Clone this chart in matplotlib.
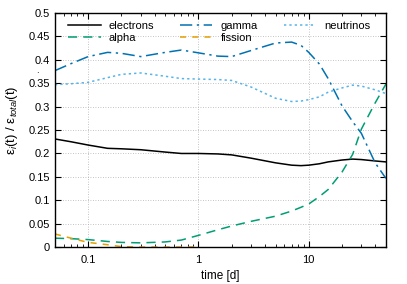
import matplotlib
matplotlib.use("Agg")
import matplotlib.pyplot as plt
from matplotlib.ticker import FixedLocator, FixedFormatter, LogLocator, NullFormatter

plt.rcParams['font.family'] = ['Liberation Sans', 'DejaVu Sans']
plt.rcParams['mathtext.fontset'] = 'custom'
plt.rcParams['mathtext.rm'] = 'Liberation Sans'
plt.rcParams['mathtext.it'] = 'Liberation Sans:italic'

# time [d]
t = [0.05, 0.07, 0.1, 0.15, 0.2, 0.3, 0.5, 0.7, 1, 1.5, 2, 3, 5, 7, 8.5, 10,
     12.5, 15, 20, 25, 30, 40, 50]
electrons = [0.231, 0.225, 0.218, 0.211, 0.210, 0.208, 0.203, 0.200, 0.200, 0.199, 0.197,
             0.190, 0.180, 0.175, 0.174, 0.175, 0.178, 0.182, 0.186, 0.188, 0.187, 0.184, 0.182]
alpha = [0.019, 0.018, 0.016, 0.012, 0.010, 0.009, 0.011, 0.015, 0.025, 0.037, 0.045,
         0.055, 0.066, 0.077, 0.085, 0.092, 0.108, 0.123, 0.160, 0.198, 0.252, 0.308, 0.348]
gamma = [0.377, 0.392, 0.407, 0.416, 0.414, 0.407, 0.416, 0.421, 0.415, 0.408, 0.407,
         0.420, 0.436, 0.438, 0.431, 0.416, 0.391, 0.360, 0.302, 0.268, 0.243, 0.180, 0.147]
neutrinos = [0.347, 0.349, 0.352, 0.362, 0.369, 0.372, 0.365, 0.360, 0.359, 0.358, 0.356,
             0.342, 0.318, 0.311, 0.312, 0.315, 0.321, 0.331, 0.340, 0.346, 0.344, 0.336, 0.328]
t_fission = [0.05, 0.07, 0.1, 0.15, 0.2, 0.3, 0.5, 0.7, 1]
fission = [0.028, 0.019, 0.010, 0.005, 0.001, 0.0, 0.0, 0.0, 0.0]

yticks = [0, 0.05, 0.1, 0.15, 0.2, 0.25, 0.3, 0.35, 0.4, 0.45, 0.5]
ylabels = ['0', '0.05', '0.1', '0.15', '0.2', '0.25', '0.3', '0.35', '0.4', '0.45', '0.5']
xticks = [0.1, 1, 10]
xlabels = ['0.1', '1', '10']

fig = plt.figure(figsize=(4.07, 2.84), dpi=100)
ax = fig.add_axes([0.135, 0.130, 0.813, 0.824])

lw = 1.1
ax.plot(t, electrons, color='black', lw=lw, label='electrons')
ax.plot(t, alpha, color='#009e73', lw=lw, dashes=(6, 4), label='alpha')
ax.plot(t, gamma, color='#0072b2', lw=lw, dashes=(8, 3, 1.5, 3), label='gamma')
ax.plot(t_fission, fission, color='#e69f00', lw=lw, dashes=(4, 4), label='fission')
ax.plot(t, neutrinos, color='#56b4e9', lw=lw, dashes=(1.5, 2), label='neutrinos')

ax.set_xscale('log')
ax.set_xlim(0.05, 50)
ax.set_ylim(0, 0.5)
ax.yaxis.set_major_locator(FixedLocator(yticks))
ax.yaxis.set_major_formatter(FixedFormatter(ylabels))
ax.xaxis.set_major_locator(FixedLocator(xticks))
ax.xaxis.set_major_formatter(FixedFormatter(xlabels))
ax.xaxis.set_minor_locator(LogLocator(base=10, subs=range(2, 10), numticks=20))
ax.xaxis.set_minor_formatter(NullFormatter())

ax.tick_params(which='both', direction='in', top=True, right=True, labelsize=8, colors='black')
ax.tick_params(which='major', length=4)
ax.tick_params(which='minor', length=2)
ax.tick_params(axis='x', pad=6)
ax.grid(True, which='major', color='#b0b0b0', ls=(0, (1, 2)), lw=0.6)
for s in ax.spines.values():
    s.set_linewidth(1.0)
    s.set_zorder(5)

ax.set_xlabel('time [d]', fontsize=8.5, labelpad=3)
ax.set_ylabel(r'ε$_{i}$(t) / ε$_{total}$(t)', fontsize=9.5)
ax.yaxis.set_label_coords(-0.107, 0.543)
fig.text(0.091, 0.743, '.', fontsize=7, ha='center')

ax.legend(loc='upper left', ncol=3, frameon=False, fontsize=8,
          handlelength=2.9, handletextpad=0.72, columnspacing=2.35,
          labelspacing=0.18, bbox_to_anchor=(0.017, 1.0), borderaxespad=0.3)

fig.savefig('out.png', dpi=100)
